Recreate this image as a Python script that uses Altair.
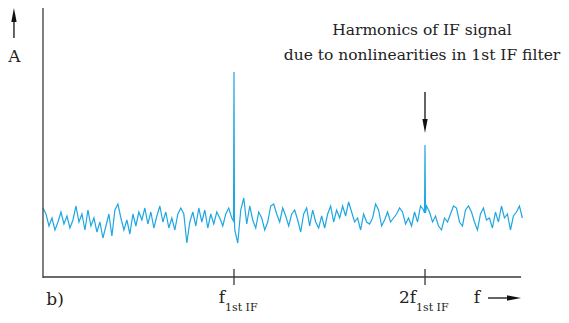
import altair as alt
import pandas as pd
import numpy as np

# ---- data ----
# noise floor amplitude (arbitrary units above the f axis), sampled evenly from f=0 to f=251
noise_amp = [
    69, 63, 51, 59, 47, 55, 65, 53, 61, 49, 57, 71, 55, 63, 47, 67, 51, 59, 45, 55, 39, 51, 63, 41, 67, 73, 59, 47, 57, 43, 63, 51, 65,
    57, 69, 53, 65, 49, 61, 71, 55, 65, 49, 59, 47, 63, 69, 63, 34, 55, 65, 51, 69, 55, 67, 49, 63, 53, 65, 59, 51, 63, 69, 59,
    47, 34, 67, 79, 53, 71, 57, 49, 65, 59, 47, 55, 71, 73, 63, 55, 69, 61, 51, 63, 67, 57, 45, 63, 69, 51, 67, 55, 49, 61, 49,
    63, 71, 55, 67, 59, 71, 61, 75, 65, 55, 59, 47, 63, 55, 53, 59, 73, 67, 51, 57, 65, 55, 59, 63, 69, 65, 53, 59, 51, 65, 55, 71, 67,
    71, 65, 55, 61, 51, 47, 59, 55, 63, 71, 69, 55, 51, 67, 71, 65, 55, 47, 63, 69, 57, 59, 49, 65, 55, 71, 59, 63, 47, 61, 65, 71, 59,
]
noise_f_start, noise_f_end = 0.0, 251.0
spike_freq = [100.0, 200.0]       # f_1st IF and 2 f_1st IF
spike_amp = [205, 132]
spike_foot = [56, 64]

tick_freq = [100, 200]
tick_main = ["f", "2f"]
tick_sub = ["1st IF", "1st IF"]
annotation = ["Harmonics of IF signal", "due to nonlinearities in 1st IF filter"]

LINE = "#1ea7e1"
AX = "#3a3a3a"
FONT = "DejaVu Serif"

X_DOM = [-18.32, 271.2]
Y_DOM = [-38, 269]

freq = np.linspace(noise_f_start, noise_f_end, len(noise_amp))
rows = [(float(f), a) for f, a in zip(freq, noise_amp)]
for f, a, foot in zip(spike_freq, spike_amp, spike_foot):
    rows += [(f - 0.25, foot), (f, a), (f + 0.25, foot)]
spec = pd.DataFrame(rows, columns=["f", "a"]).sort_values("f").reset_index(drop=True)
spec["o"] = range(len(spec))

xs = alt.Scale(domain=X_DOM, nice=False, zero=False)
ys = alt.Scale(domain=Y_DOM, nice=False, zero=False)

def X(field="x"):
    return alt.X(f"{field}:Q", scale=xs, axis=None)

def Y(field="y"):
    return alt.Y(f"{field}:Q", scale=ys, axis=None)

line = alt.Chart(spec).mark_line(color=LINE, strokeWidth=1.2, interpolate="linear").encode(
    x=alt.X("f:Q", scale=xs, axis=None),
    y=alt.Y("a:Q", scale=ys, axis=None),
    order="o:Q",
)

# axes drawn as rules
vrules = pd.DataFrame({"x": [0] + tick_freq, "y": [-1, -8, -8], "y2": [270, 8, 8]})
vr = alt.Chart(vrules).mark_rule(color=AX, strokeWidth=1.3).encode(x=X(), y=Y(), y2="y2:Q")
hrules = pd.DataFrame({"x": [0], "x2": [250.3], "y": [0]})
hr = alt.Chart(hrules).mark_rule(color=AX, strokeWidth=1.3).encode(x=X(), x2="x2:Q", y=Y())

# arrow shafts
shafts_v = pd.DataFrame({"x": [-15.2, 200], "y": [239, 185], "y2": [258, 152]})
sv = alt.Chart(shafts_v).mark_rule(color="#111", strokeWidth=1.3).encode(x=X(), y=Y(), y2="y2:Q")
shafts_h = pd.DataFrame({"x": [233.0], "x2": [245.0], "y": [-21]})
sh = alt.Chart(shafts_h).mark_rule(color="#111", strokeWidth=1.3).encode(x=X(), x2="x2:Q", y=Y())

HEAD = "M0,-1L0.38,1L-0.38,1Z"
heads = []
for hx, hy, ang in [(-15.2, 262, 0), (200, 151, 180), (246.6, -21, 90)]:
    heads.append(
        alt.Chart(pd.DataFrame({"x": [hx], "y": [hy]})).mark_point(
            shape=HEAD, filled=True, color="#111", size=196, opacity=1, angle=ang, strokeWidth=0
        ).encode(x=X(), y=Y())
    )

# texts
def txt(df, align, size, **kw):
    return alt.Chart(df).mark_text(
        align=align, baseline="middle", font=FONT, fontSize=size, color="#222", **kw
    ).encode(x=X(), y=Y(), text="t:N")

t_main = txt(pd.DataFrame({"x": tick_freq, "y": [-21, -21], "t": tick_main}), "right", 17, dx=-9)
t_sub = txt(pd.DataFrame({"x": tick_freq, "y": [-31, -31], "t": tick_sub}), "left", 11, dx=-9)
t_misc = txt(pd.DataFrame({"x": [-15.0, 6.3, 227.2], "y": [220, -23, -21], "t": ["A", "b)", "f"]}), "center", 17)
t_ann = txt(pd.DataFrame({"x": [200, 200], "y": [247, 222], "t": annotation}), "center", 15.5, dx=-3)

chart = alt.layer(line, vr, hr, sv, sh, *heads, t_main, t_sub, t_misc, t_ann).properties(
    width=553, height=307, padding=0, autosize=alt.AutoSizeParams(type="none"),
    background="white",
).configure_view(stroke=None)

chart.save("out.html", embed_options={"renderer": "svg", "actions": False})
